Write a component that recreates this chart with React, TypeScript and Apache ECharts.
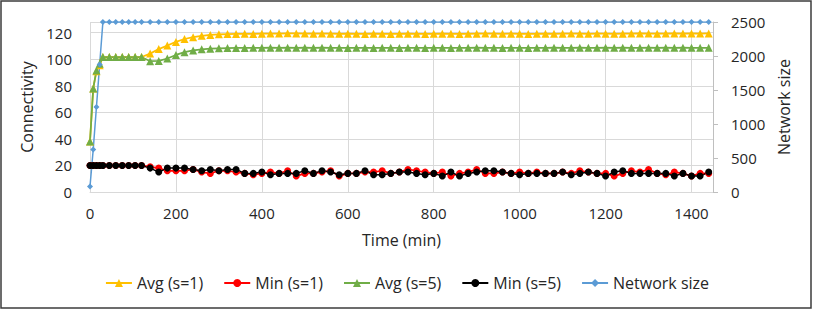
import React, { useEffect, useRef } from "react";
import * as echarts from "echarts";

const times = [
  0, 7.5, 15, 22.5, 30, 45, 60, 75, 90, 105, 120,
  140, 160, 180, 200, 220, 240, 260, 280, 300, 320,
  340, 360, 380, 400, 420, 440, 460, 480,
  500, 520, 540, 560, 580, 600, 620, 640,
  660, 680, 700, 720, 740, 760, 780, 800,
  820, 840, 860, 880, 900, 920, 940, 960,
  980, 1000, 1020, 1040, 1060, 1080, 1100, 1120,
  1140, 1160, 1180, 1200, 1220, 1240, 1260, 1280,
  1300, 1320, 1340, 1360, 1380, 1400, 1420, 1440,
];

const avgS1 = [
  38, 78, 91, 95.5, 101.6, 101.6, 101.6, 101.6, 101.6, 101.6, 101.6,
  104.2, 107.6, 110.3, 113, 115.2, 116.6, 117.6, 118.3, 118.7, 118.9,
  119.0, 119.1, 119.0, 119.2, 119.3, 119.3, 119.5, 119.4,
  119.3, 119.2, 119.3, 119.2, 119.1, 119.2, 119.1, 119.0,
  119.2, 119.1, 119.0, 119.1, 119.2, 119.1, 119.0, 119.1,
  119.2, 119.1, 119.0, 119.1, 119.2, 119.3, 119.2, 119.1,
  119.2, 119.1, 119.0, 119.1, 119.2, 119.1, 119.2, 119.3,
  119.2, 119.1, 119.3, 119.2, 119.1, 119.2, 119.3, 119.4,
  119.3, 119.2, 119.3, 119.4, 119.3, 119.4, 119.3, 119.4,
];

const minS1 = [
  20, 20, 20, 20, 20, 20, 20, 20, 20, 20, 20,
  19, 18, 16, 16, 16, 17, 15, 14, 16, 16,
  15, 14, 13, 14, 15, 14, 16, 12,
  14, 14, 15, 16, 12, 14, 14, 15,
  15, 16, 14, 15, 17, 16, 15, 14,
  15, 12, 14, 15, 17, 14, 14, 15,
  14, 15, 14, 15, 14, 14, 15, 14,
  16, 15, 14, 14, 12, 14, 16, 15,
  17, 14, 13, 15, 14, 12, 14, 14,
];

const avgS5 = [
  38, 78, 91.5, 96.5, 101.6, 101.6, 101.6, 101.6, 101.6, 101.6, 101.6,
  98.5, 98.7, 100.5, 103.2, 105.3, 106.6, 107.4, 107.9, 108.2, 108.4,
  108.5, 108.5, 108.6, 108.6, 108.7, 108.6, 108.7, 108.6,
  108.7, 108.6, 108.7, 108.6, 108.6, 108.5, 108.6, 108.6,
  108.5, 108.6, 108.6, 108.5, 108.6, 108.6, 108.5, 108.6,
  108.6, 108.5, 108.6, 108.6, 108.7, 108.6, 108.6, 108.5,
  108.6, 108.6, 108.5, 108.6, 108.6, 108.7, 108.6, 108.6,
  108.7, 108.6, 108.6, 108.7, 108.6, 108.7, 108.6, 108.6,
  108.7, 108.6, 108.7, 108.6, 108.7, 108.6, 108.6, 108.6,
];

const minS5 = [
  20, 20, 20, 20, 20, 20, 20, 20, 20, 20, 20,
  18, 15, 18, 18, 18, 17, 16, 17, 16, 17,
  17, 14, 14, 15, 13, 14, 14, 14,
  16, 14, 16, 15, 13, 14, 14, 16,
  13, 13, 14, 15, 15, 14, 13, 14,
  12, 15, 12, 14, 15, 16, 16, 15,
  14, 13, 14, 14, 14, 14, 15, 13,
  14, 15, 14, 12, 15, 16, 14, 14,
  14, 14, 14, 12, 14, 12, 12, 15,
];

const netSize = [
  80, 625, 1250, 1875, 2500, 2500, 2500, 2500, 2500, 2500, 2500,
  2500, 2500, 2500, 2500, 2500, 2500, 2500, 2500, 2500, 2500,
  2500, 2500, 2500, 2500, 2500, 2500, 2500, 2500,
  2500, 2500, 2500, 2500, 2500, 2500, 2500, 2500,
  2500, 2500, 2500, 2500, 2500, 2500, 2500, 2500,
  2500, 2500, 2500, 2500, 2500, 2500, 2500, 2500,
  2500, 2500, 2500, 2500, 2500, 2500, 2500, 2500,
  2500, 2500, 2500, 2500, 2500, 2500, 2500, 2500,
  2500, 2500, 2500, 2500, 2500, 2500, 2500, 2500,
];

const seriesNames = ["Avg (s=1)", "Min (s=1)", "Avg (s=5)", "Min (s=5)", "Network size"];
const xTitle = "Time (min)";
const yLeftTitle = "Connectivity";
const yRightTitle = "Network size";

const FONT = "'Open Sans', 'Liberation Sans', sans-serif";
const TXT = "#262626";

function pairs(vals: number[]) {
  return times.map((t, i) => [t, vals[i]]);
}

const plain = (v: number) => String(v);

export default function App() {
  const ref = useRef<HTMLDivElement>(null);
  useEffect(() => {
    if (!ref.current) return;
    const chart = echarts.init(ref.current, null, { renderer: "svg" });
    const mk = (
      name: string,
      vals: number[],
      color: string,
      symbol: string,
      size: number,
      yIdx: number,
      lw: number
    ) => ({
      name,
      type: "line",
      data: pairs(vals),
      yAxisIndex: yIdx,
      symbol,
      symbolSize: size,
      showAllSymbol: true,
      lineStyle: { color, width: lw },
      itemStyle: { color, borderWidth: 0 },
    });
    chart.setOption({
      animation: false,
      textStyle: { fontFamily: FONT },
      grid: { left: 90, right: 101, top: 22, bottom: 118, containLabel: false },
      graphic: [
        {
          type: "rect",
          shape: { x: 1, y: 1, width: 810, height: 307 },
          style: { fill: "none", stroke: "#3c3c3c", lineWidth: 1.5 },
          silent: true,
        },
      ],
      legend: {
        top: 270,
        left: "center",
        itemWidth: 26,
        itemHeight: 10,
        itemGap: 20,
        textStyle: { fontSize: 16, color: TXT, fontFamily: FONT },
        data: seriesNames,
      },
      xAxis: {
        type: "value",
        min: 0,
        max: 1450,
        interval: 200,
        name: xTitle,
        nameLocation: "middle",
        nameGap: 40,
        nameTextStyle: { fontSize: 16, color: TXT, fontFamily: FONT },
        axisLine: { show: true, lineStyle: { color: "#d9d9d9", width: 1 } },
        axisTick: { show: false },
        axisLabel: { fontSize: 15, color: TXT, margin: 13, showMaxLabel: false, fontFamily: FONT, formatter: plain },
        splitLine: { show: true, lineStyle: { color: "#d9d9d9", width: 1 } },
      },
      yAxis: [
        {
          type: "value",
          min: 0,
          max: 128,
          interval: 20,
          name: yLeftTitle,
          nameLocation: "middle",
          nameGap: 47,
          nameTextStyle: { fontSize: 16, color: TXT, fontFamily: FONT },
          axisLine: { show: false },
          axisTick: { show: false },
          axisLabel: { fontSize: 15, color: TXT, margin: 18, showMaxLabel: false, fontFamily: FONT, formatter: plain },
          splitLine: { show: true, lineStyle: { color: "#d9d9d9", width: 1 } },
        },
        {
          type: "value",
          min: 0,
          max: 2500,
          interval: 500,
          name: yRightTitle,
          nameLocation: "middle",
          nameGap: 60,
          nameTextStyle: { fontSize: 16, color: TXT, fontFamily: FONT },
          axisLine: { show: true, lineStyle: { color: "#bfbfbf", width: 1 } },
          axisTick: { show: true, length: 5, lineStyle: { color: "#bfbfbf" } },
          axisLabel: { fontSize: 15, color: TXT, margin: 18, fontFamily: FONT, formatter: plain },
          splitLine: { show: false },
        },
      ],
      series: [
        mk(seriesNames[0], avgS1, "#FFC000", "triangle", 8, 0, 1.75),
        mk(seriesNames[1], minS1, "#FF0000", "circle", 7, 0, 1.75),
        mk(seriesNames[2], avgS5, "#70AD47", "triangle", 8, 0, 1.75),
        mk(seriesNames[3], minS5, "#000000", "circle", 7, 0, 1.5),
        mk(seriesNames[4], netSize, "#5B9BD5", "diamond", 6, 1, 1.5),
      ],
    });
    return () => chart.dispose();
  }, []);
  return (
    <div
      ref={ref}
      style={{ position: "fixed", left: 0, top: 0, width: 814, height: 310, background: "#fff" }}
    />
  );
}
